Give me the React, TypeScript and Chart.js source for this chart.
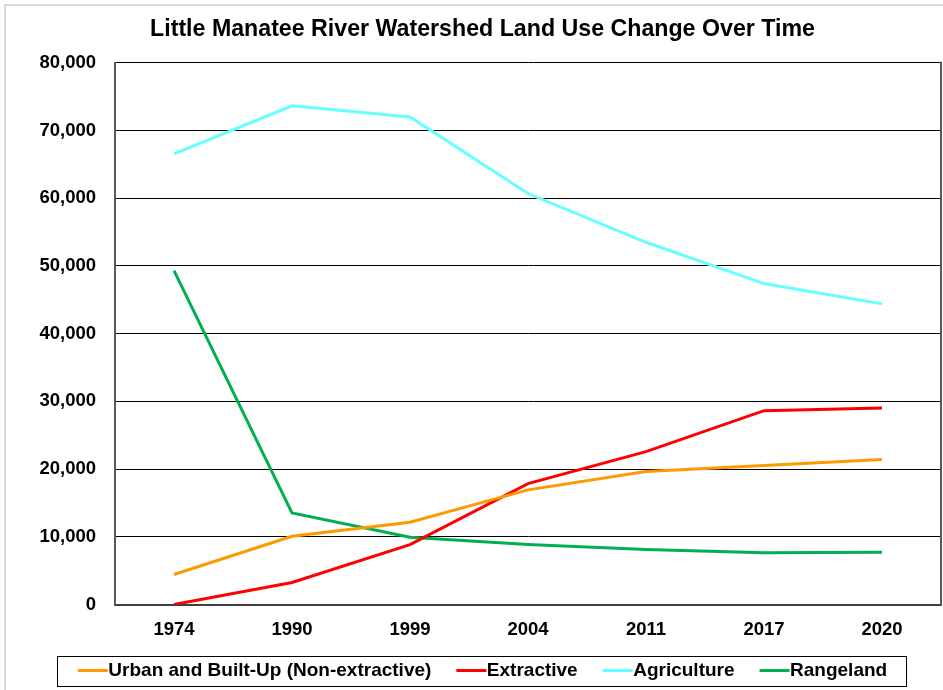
import { useEffect, useRef } from "react";
import { Chart, registerables } from "chart.js";

Chart.register(...registerables);

const categories = ["1974", "1990", "1999", "2004", "2011", "2017", "2020"];
const urbanValues = [4430, 10080, 12150, 16930, 19630, 20520, 21400];
const extractiveValues = [0, 3250, 8850, 17860, 22580, 28630, 29030];
const agricultureValues = [66570, 73650, 72000, 60700, 53500, 47400, 44400];
const rangelandValues = [49300, 13530, 9930, 8860, 8120, 7630, 7720];
const seriesNames = ["Urban and Built-Up (Non-extractive)", "Extractive", "Agriculture", "Rangeland"];
const seriesColors = ["#FF9900", "#FF0000", "#66FFFF", "#00B050"];
const yMin = 0;
const yMax = 80000;
const yStep = 10000;
const titleText = "Little Manatee River Watershed Land Use Change Over Time";

const FONT = "'Liberation Sans', Arial, sans-serif";

const decorPlugin = {
  id: "decor",
  beforeDraw(chart: any) {
    const ctx = chart.ctx;
    ctx.save();
    ctx.fillStyle = "#ffffff";
    ctx.fillRect(0, 0, chart.width, chart.height);
    ctx.strokeStyle = "#d9d9d9";
    ctx.lineWidth = 2;
    ctx.strokeRect(5, 5, chart.width + 20, chart.height + 20);
    ctx.restore();
  },
  afterDraw(chart: any) {
    const ctx = chart.ctx;
    const area = chart.chartArea;
    ctx.save();
    ctx.strokeStyle = "#595959";
    ctx.lineWidth = 2;
    ctx.beginPath();
    ctx.moveTo(area.right, area.top - 1);
    ctx.lineTo(area.right, area.bottom + 1);
    ctx.stroke();
    const lg = chart.legend;
    if (lg && lg.legendHitBoxes && lg.legendHitBoxes.length) {
      const boxes = lg.legendHitBoxes;
      let minL = Infinity;
      let maxR = -Infinity;
      let cy = 0;
      boxes.forEach((b: any, i: number) => {
        minL = Math.min(minL, b.left);
        maxR = Math.max(maxR, b.left + b.width);
        cy = b.top + b.height / 2;
        ctx.strokeStyle = seriesColors[i];
        ctx.lineWidth = 3;
        ctx.beginPath();
        ctx.moveTo(b.left, cy);
        ctx.lineTo(b.left + 30, cy);
        ctx.stroke();
      });
      ctx.strokeStyle = "#000000";
      ctx.lineWidth = 1;
      ctx.strokeRect(Math.round(minL - 21) + 0.5, Math.round(cy - 15) + 0.5, Math.round(maxR - minL + 40), 30);
    }
    ctx.restore();
  },
};

export default function App() {
  const canvasRef = useRef<HTMLCanvasElement | null>(null);

  useEffect(() => {
    if (!canvasRef.current) return;
    const valueSets = [urbanValues, extractiveValues, agricultureValues, rangelandValues];
    const chart = new Chart(canvasRef.current, {
      type: "line",
      data: {
        labels: categories,
        datasets: valueSets.map((vals, i) => ({
          label: seriesNames[i],
          data: vals,
          borderColor: seriesColors[i],
          backgroundColor: seriesColors[i],
          borderWidth: 3,
          pointRadius: 0,
          tension: 0,
          fill: false,
        })),
      },
      options: {
        responsive: false,
        animation: false,
        events: [],
        layout: { padding: { top: 10, left: 24, right: 2, bottom: 0 } },
        plugins: {
          title: {
            display: true,
            text: titleText,
            color: "#000000",
            font: { family: FONT, size: 23.2, weight: "bold" },
            padding: { top: 6, bottom: 19 },
          },
          legend: {
            display: true,
            position: "bottom",
            labels: {
              color: "#000000",
              font: { family: FONT, size: 19, weight: "bold" },
              boxWidth: 21,
              boxHeight: 3,
              padding: 25,
              generateLabels: (ch: any) => {
                const items = Chart.defaults.plugins.legend.labels.generateLabels(ch);
                return items.map((it: any) => ({
                  ...it,
                  fillStyle: "rgba(0,0,0,0)",
                  strokeStyle: "rgba(0,0,0,0)",
                  lineWidth: 0,
                }));
              },
            },
          },
          tooltip: { enabled: false },
        },
        scales: {
          x: {
            type: "category",
            offset: true,
            grid: { display: false, drawTicks: false },
            border: { display: true, color: "#404040", width: 2 },
            ticks: {
              color: "#000000",
              font: { family: FONT, size: 18.5, weight: "bold" },
              padding: 14,
              maxRotation: 0,
            },
            afterFit: (scale: any) => {
              scale.height = 31.5;
            },
          },
          y: {
            min: yMin,
            max: yMax,
            grid: { color: "#000000", lineWidth: 1, drawTicks: false },
            border: { display: true, color: "#595959", width: 2 },
            ticks: {
              stepSize: yStep,
              color: "#000000",
              font: { family: FONT, size: 18.5, weight: "bold" },
              padding: 19,
              callback: (v: any) => Number(v).toLocaleString("en-US"),
            },
            afterFit: (scale: any) => {
              scale.width = 91;
            },
          },
        },
      },
      plugins: [decorPlugin],
    });
    return () => chart.destroy();
  }, []);

  return (
    <div style={{ position: "absolute", left: 0, top: 0, width: 943, height: 690, overflow: "hidden" }}>
      <canvas ref={canvasRef} width={943} height={690} style={{ display: "block" }} />
    </div>
  );
}
